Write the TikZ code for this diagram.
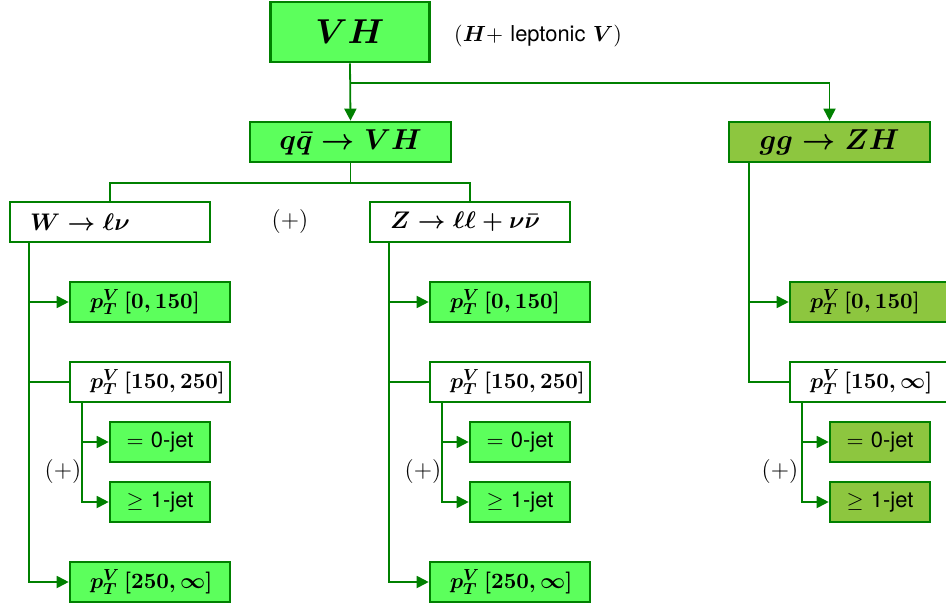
\documentclass[11pt,tikz,border=0pt]{standalone}
\usepackage{fontspec}
\setsansfont{TeX Gyre Heros}
\usepackage{bm}
\usetikzlibrary{arrows.meta,positioning,calc}
\definecolor{vhGreen}{HTML}{5CFF5C}
\definecolor{vhOlive}{HTML}{8DC63F}
\definecolor{vhLine}{HTML}{008000}

\begin{document}
\begin{tikzpicture}[x=0.5pt,y=-0.5pt,
  box/.style={draw=vhLine, line width=1.3pt, minimum height=20pt, inner sep=0pt},
  head/.style={box, font=\fontsize{13.6}{16}\selectfont\boldmath, minimum width=100.5pt},
  chan/.style={box, fill=white, font=\large\boldmath, text width=80pt, inner xsep=10pt, align=left},
  bin/.style={box, font=\boldmath, text width=60pt, inner xsep=10pt, align=left},
  jetbox/.style={box, minimum width=50pt},
  orplus/.style={font=\large},
  link/.style={draw=vhLine, line width=0.9pt},
  tip/.style={link, -{Triangle[length=6pt,width=6pt]}}]
  \useasboundingbox (0,0) rectangle (946,608);

  % top of the tree
  \node[box, fill=vhGreen, minimum width=79.5pt, minimum height=30pt, font=\LARGE\boldmath] (vh) at (350,32) {$VH$};
  \node (note) at (538,36) {$(\bm{H} +$ \textsf{leptonic} $\bm{V})$};
  \node[head, fill=vhGreen] (qq) at (350.5,142) {$q\bar{q} \rightarrow VH$};
  \node[head, fill=vhOlive] (gg) at (829.5,142) {$gg \rightarrow ZH$};
  \coordinate (fork) at ([yshift=-10pt]vh.south);
  \draw[tip] (vh.south) -- (qq.north);
  \draw[tip] (fork) -| (gg.north);

  % W and Z channels
  \node[chan] (w) at (110,222) {$W \rightarrow \ell\nu$};
  \node[chan] (z) at (470,222) {$Z \rightarrow \ell\ell + \nu\bar{\nu}$};
  \node[orplus] (plus) at (290,222) {$(+)$};
  \draw[link] (qq.south) -- ++(0,20) -| (w.north);
  \draw[link] (qq.south) -- ++(0,20) -| (z.north);

  \foreach \c/\dx in {w/0, z/360} {
    \node[bin, fill=vhGreen] (\c1) at (150+\dx,302) {$p_T^V\,[0,150]$};
    \node[bin, fill=white] (\c2) at (150+\dx,382) {$p_T^V\,[150,250]$};
    \node[bin, fill=vhGreen] (\c3) at (150+\dx,582) {$p_T^V\,[250,\infty]$};
    \node[jetbox, fill=vhGreen] (\c2a) at (160+\dx,442) {$=$ \textsf{0-jet}};
    \node[jetbox, fill=vhGreen] (\c2b) at (160+\dx,502) {$\geq$ \textsf{1-jet}};
    \node[orplus] (\c plus) at (63+\dx,471) {$(+)$};
    \draw[tip] ([xshift=10pt]\c.south west) |- (\c1.west);
    \draw[link] ([xshift=10pt]\c.south west) |- (\c2.west);
    \draw[tip] ([xshift=10pt]\c.south west) |- (\c3.west);
    \draw[tip] ([xshift=6.5pt]\c2.south west) |- (\c2a.west);
    \draw[tip] ([xshift=6.5pt]\c2.south west) |- (\c2b.west);
  }

  % gg channel
  \node[bin, fill=vhOlive] (g1) at (870,302) {$p_T^V\,[0,150]$};
  \node[bin, fill=white] (g2) at (870,382) {$p_T^V\,[150,\infty]$};
  \node[jetbox, fill=vhOlive] (g2a) at (880,442) {$=$ \textsf{0-jet}};
  \node[jetbox, fill=vhOlive] (g2b) at (880,502) {$\geq$ \textsf{1-jet}};
  \node[orplus] (gplus) at (780,471) {$(+)$};
  \draw[tip] ([xshift=10.5pt]gg.south west) |- (g1.west);
  \draw[link] ([xshift=10.5pt]gg.south west) |- (g2.west);
  \draw[tip] ([xshift=6.5pt]g2.south west) |- (g2a.west);
  \draw[tip] ([xshift=6.5pt]g2.south west) |- (g2b.west);
\end{tikzpicture}
\end{document}
